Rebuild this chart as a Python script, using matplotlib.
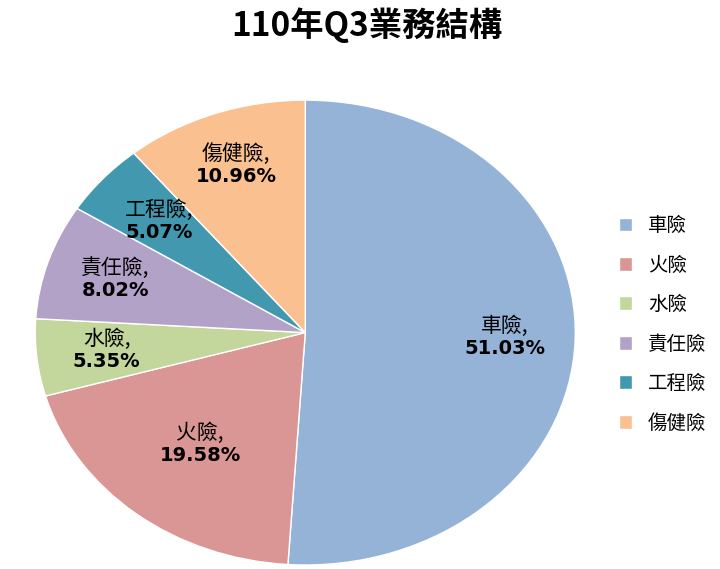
import matplotlib
matplotlib.use("Agg")
import matplotlib.pyplot as plt
import numpy as np

plt.rcParams['font.family'] = ['Noto Sans CJK TC', 'DejaVu Sans']

categories = ["車險", "火險", "水險", "責任險", "工程險", "傷健險"]
values = [51.03, 19.58, 5.35, 8.02, 5.07, 10.96]
colors = ["#95B3D7", "#D99694", "#C3D69B", "#B3A2C7", "#4198AF", "#FAC090"]
label_r = [0.74, 0.62, 0.74, 0.74, 0.72, 0.76]

fig = plt.figure(figsize=(7.2, 5.69), dpi=100)
fig.text(0.51, 0.955, "110年Q3業務結構", ha="center", va="center", fontsize=24, fontweight="bold")
ax = fig.add_axes([0.049, 0.007, 0.75, 0.817])
wedges, _ = ax.pie(values, colors=colors, startangle=90, counterclock=False,
                   wedgeprops=dict(linewidth=1, edgecolor="white"))
ax.set_aspect('auto')
ax.set_xlim(-1, 1); ax.set_ylim(-1, 1)
for w, c, v, r in zip(wedges, categories, values, label_r):
    ang = np.deg2rad((w.theta1 + w.theta2) / 2)
    x, y = r * np.cos(ang), r * np.sin(ang)
    ax.text(x, y + 0.005, c + ",", ha="center", va="bottom", fontsize=15)
    ax.text(x, y - 0.005, f"{v:.2f}%", ha="center", va="top", fontsize=14, fontweight="bold",
            family="DejaVu Sans")
fig.legend(wedges, categories, loc="center left", bbox_to_anchor=(0.835, 0.43), frameon=False,
           fontsize=14, handlelength=0.7, handleheight=0.7, labelspacing=0.95)
fig.savefig("out.png", dpi=100)
